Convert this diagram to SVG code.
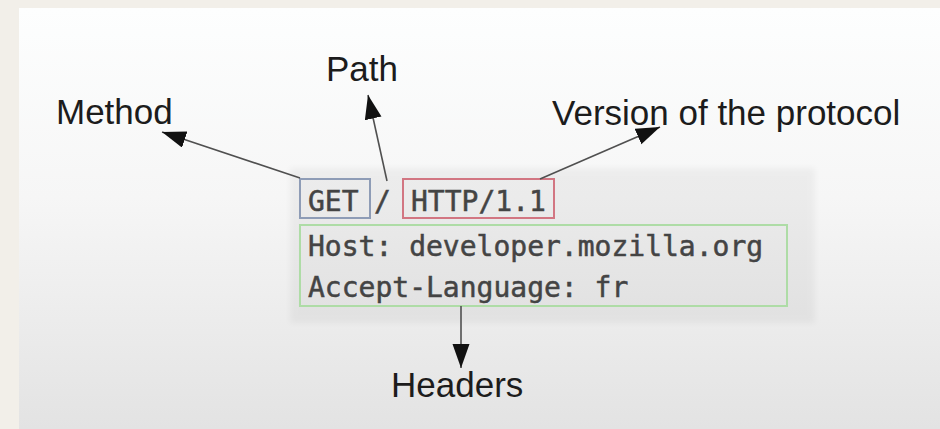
<svg xmlns="http://www.w3.org/2000/svg" width="940" height="429" viewBox="0 0 940 429">
  <defs>
    <linearGradient id="bg" x1="0" y1="0" x2="0" y2="1">
      <stop offset="0" stop-color="#fdfefe"/>
      <stop offset="0.45" stop-color="#f6f6f6"/>
      <stop offset="1" stop-color="#e3e3e3"/>
    </linearGradient>
    <filter id="soft" x="-5%" y="-10%" width="110%" height="120%">
      <feGaussianBlur stdDeviation="3"/>
    </filter>
    <marker id="head" markerUnits="userSpaceOnUse" markerWidth="26" markerHeight="18" refX="24" refY="8.5" orient="auto">
      <path d="M0,0 L24,8.5 L0,17 Z" fill="#111"/>
    </marker>
  </defs>
  <style>
    .label { font-family: "Liberation Sans", Arial, sans-serif; font-size: 35px; fill: #1c1c1c; }
    .code { font-family: "DejaVu Sans Mono", "Liberation Mono", monospace; font-size: 28px; fill: #444; stroke: #444; stroke-width: 0.5; }
    .box { fill: none; stroke-width: 2; }
    .link { fill: none; stroke: #505050; stroke-width: 1.6; marker-end: url(#head); }
  </style>

  <!-- page frame and panel -->
  <rect x="0" y="0" width="940" height="429" fill="#f2efe9"/>
  <rect x="19" y="8" width="921" height="421" fill="url(#bg)"/>
  <!-- request block backdrop -->
  <rect x="290" y="168" width="525" height="155" fill="#000" opacity="0.04" filter="url(#soft)"/>

  <g id="request-line">
    <g id="method-node">
      <rect class="box" x="300" y="179" width="70" height="39" stroke="#8e9cb6"/>
      <text class="code" x="308" y="211">GET</text>
    </g>
    <g id="path-node">
      <text class="code" x="374" y="211">/</text>
    </g>
    <g id="version-node">
      <rect class="box" x="403" y="179" width="151" height="39" stroke="#d27682"/>
      <text class="code" x="411" y="211">HTTP/1.1</text>
    </g>
  </g>

  <g id="headers-node">
    <rect class="box" x="300" y="225" width="487" height="81" stroke="#aedca6"/>
    <text class="code" x="308" y="256">Host: developer.mozilla.org</text>
    <text class="code" x="308" y="297">Accept-Language: fr</text>
  </g>

  <g id="labels">
    <text id="label-method" class="label" x="56" y="124">Method</text>
    <text id="label-path" class="label" x="326" y="81">Path</text>
    <text id="label-version" class="label" x="552" y="125" font-size="36">Version of the protocol</text>
    <text id="label-headers" class="label" x="391" y="397" font-size="36">Headers</text>
  </g>

  <g id="connectors">
    <line class="link" x1="300" y1="178" x2="162" y2="132"/>
    <line class="link" x1="387" y1="181" x2="368" y2="95"/>
    <line class="link" x1="540" y1="179" x2="660" y2="127"/>
    <line class="link" x1="461" y1="306" x2="461" y2="368" stroke="#111"/>
  </g>
</svg>
